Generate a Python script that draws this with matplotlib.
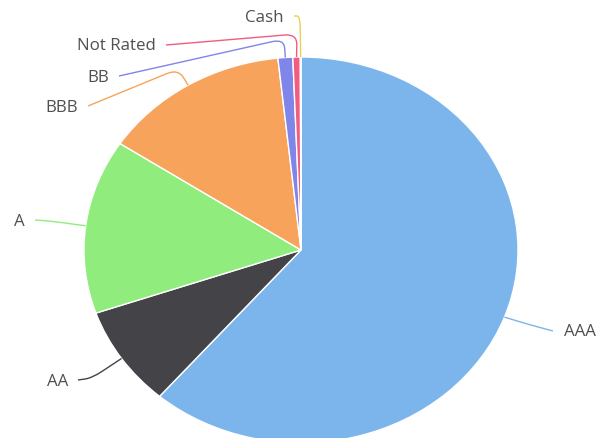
import numpy as np
import matplotlib.pyplot as plt
from matplotlib.path import Path
from matplotlib.patches import PathPatch

# credit rating breakdown (%)
labels = ['AAA', 'AA', 'A', 'BBB', 'BB', 'Not Rated', 'Cash']
values = [61.3, 8.4, 14.6, 14.0, 1.1, 0.55, 0.05]
colors = ['#7cb5ec', '#434348', '#90ed7d', '#f7a35c', '#8085e9', '#f15c80', '#e4d354']

# label layout in pixels (from top-left): connector start and bend
label_start = [(553, 331), (78, 380), (35, 220), (88, 106), (119, 76), (166, 45), (294, 16)]
label_bend = [(527, 324), (92, 378), (50, 221), (178, 69), (284, 39), (297, 34), (300, 16)]
label_side = ['left', 'right', 'right', 'right', 'right', 'right', 'right']

W, H = 603, 438
squash = 193 / 217  # the chart is a bit flattened vertically
cx, cy, r = 301, 250, 217

fig = plt.figure(figsize=(W / 100, H / 100), dpi=100)
ax = fig.add_axes([0, 0, 1, 1])


def to_data(px, py):
    return np.array([px, (H - py) / squash])


center = to_data(cx, cy)
wedges, _ = ax.pie(values, colors=colors, startangle=90, counterclock=False,
                   radius=r, center=center,
                   wedgeprops=dict(edgecolor='white', linewidth=1))
ax.set_aspect('auto')
ax.set_xlim(0, W)
ax.set_ylim(0, H / squash)
ax.axis('off')


def connector(s, b, e, d=12):
    u1 = (s - b) / max(np.hypot(*(s - b)), 1e-9)
    u2 = (e - b) / max(np.hypot(*(e - b)), 1e-9)
    d1 = min(d, np.hypot(*(s - b)) * 0.5)
    d2 = min(d, np.hypot(*(e - b)) * 0.5)
    p1 = b + u1 * d1
    p2 = b + u2 * d2
    verts = [s, p1, b, p2, e]
    codes = [Path.MOVETO, Path.LINETO, Path.CURVE3, Path.CURVE3, Path.LINETO]
    return Path(verts, codes)


for w, lab, col, st, bd, side in zip(wedges, labels, colors, label_start, label_bend, label_side):
    mid = np.deg2rad((w.theta1 + w.theta2) / 2)
    edge = center + r * np.array([np.cos(mid), np.sin(mid)])
    s = to_data(*st)
    b = to_data(*bd)
    ax.add_patch(PathPatch(connector(s, b, edge), fill=False, edgecolor=col, lw=1))
    ty = to_data(st[0], st[1] + 1.5)[1]
    txt = ax.text(s[0] + 11 if side == 'left' else s[0] - 10, ty, lab,
                  ha=side if side == 'left' else 'right', va='center',
                  fontsize=12.2, color='#505050', family='Open Sans')
    txt.set_path_effects([])

fig.savefig('out.png', dpi=100)
